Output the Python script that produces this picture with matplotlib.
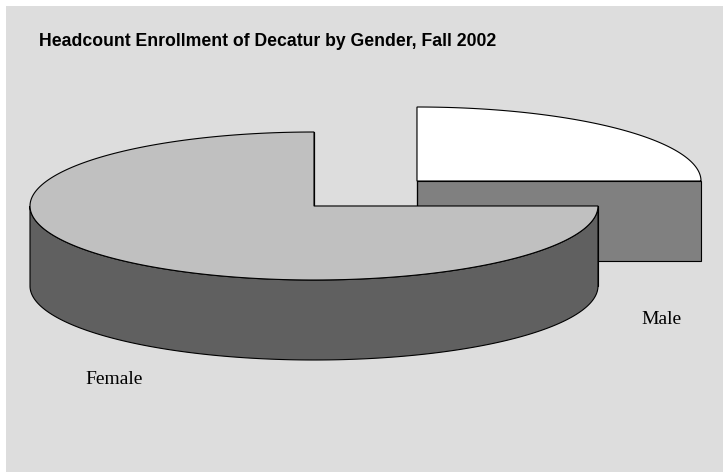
import numpy as np
import matplotlib
matplotlib.use("Agg")
import matplotlib.pyplot as plt
from matplotlib.patches import Polygon, Rectangle

# data (share of headcount)
categories = ['Male', 'Female']
values = [25, 75]
top_colors = ['#ffffff', '#c0c0c0']
side_colors = ['#808080', '#606060']
explode = [(103, -25), (0, 0)]
label_pos = [(661, 324), (114, 384)]
title = 'Headcount Enrollment of Decatur by Gender, Fall 2002'

# 3d pie geometry in pixels
cx, cy = 314, 206
rx, ry = 284, 74
depth = 80
bg = '#dddddd'


def ellipse_pts(x0, y0, t0, t1, dy=0, n=200):
    t = np.radians(np.linspace(t0, t1, n))
    return np.column_stack([x0 + rx * np.cos(t), y0 - ry * np.sin(t) + dy])


fig = plt.figure(figsize=(7.23, 4.72), dpi=100)
fig.patch.set_facecolor('white')
ax = fig.add_axes([0, 0, 1, 1])
ax.set_xlim(0, 723)
ax.set_ylim(472, 0)
ax.axis('off')
ax.add_patch(Rectangle((6, 6), 723, 472, facecolor=bg, edgecolor='none'))

# slices go clockwise from 12 o'clock
total = float(sum(values))
angles = []
start = 90.0
for v in values:
    sweep = 360.0 * v / total
    angles.append((start - sweep, start))
    start -= sweep

# back slices first
order = sorted(range(len(values)), key=lambda i: cy + explode[i][1])
lw = 0.8
for i in order:
    a0, a1 = angles[i]
    x0 = cx + explode[i][0]
    y0 = cy + explode[i][1]

    # radial cut faces
    for a in (a0, a1):
        ex = x0 + rx * np.cos(np.radians(a))
        ey = y0 - ry * np.sin(np.radians(a))
        face = [(x0, y0), (ex, ey), (ex, ey + depth), (x0, y0 + depth)]
        ax.add_patch(Polygon(face, closed=True, facecolor=side_colors[i],
                             edgecolor='black', linewidth=lw))

    # visible part of the outer wall (front half)
    for s0, s1 in [(a0, a1), (a0 + 360, a1 + 360), (a0 - 360, a1 - 360)]:
        w0, w1 = max(s0, 180), min(s1, 360)
        if w1 > w0:
            upper = ellipse_pts(x0, y0, w0, w1)
            lower = ellipse_pts(x0, y0, w1, w0, dy=depth)
            ax.add_patch(Polygon(np.vstack([upper, lower]), closed=True,
                                 facecolor=side_colors[i], edgecolor='black',
                                 linewidth=lw))

    # top face
    arc = ellipse_pts(x0, y0, a0, a1)
    top = np.vstack([[x0, y0], arc])
    ax.add_patch(Polygon(top, closed=True, facecolor=top_colors[i],
                         edgecolor='black', linewidth=lw))

for name, (lx, ly) in zip(categories, label_pos):
    ax.text(lx, ly, name, fontsize=14, family='Liberation Serif',
            ha='center', va='baseline')

ax.text(39, 46, title, fontsize=12.7, fontweight='bold',
        family='Liberation Sans', ha='left', va='baseline')

fig.savefig('out.png', dpi=100, facecolor=fig.get_facecolor())
